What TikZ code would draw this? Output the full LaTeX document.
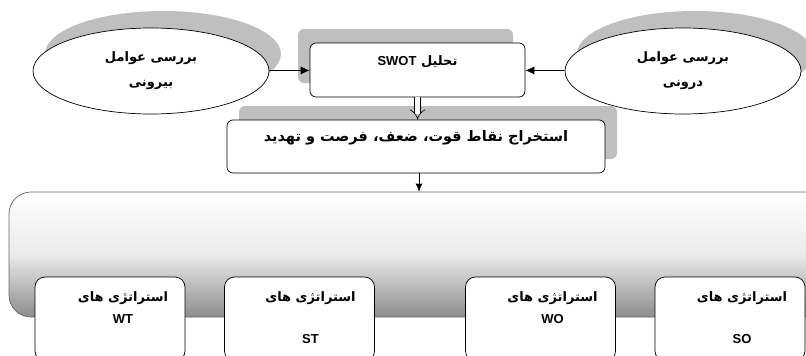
\documentclass[tikz,border=0pt]{standalone}
\usepackage{fontspec}
\setmainfont{Liberation Sans}
\newfontfamily\farsi[Script=Arabic]{DejaVu Sans}
\TeXXeTstate=1
\usetikzlibrary{positioning,shapes.geometric,shadows,arrows.meta}

\newcommand{\fatext}[1]{\beginR #1\endR}
\newcommand{\latin}[1]{{\normalfont\bfseries\beginL #1\endL}}

\tikzset{
  factor/.style={draw, ellipse, fill=white, line width=0.7pt, minimum width=236pt, minimum height=86pt, inner sep=0pt, align=center, font=\farsi\bfseries\fontsize{13pt}{25pt}\selectfont, drop shadow={shadow xshift=12pt, shadow yshift=17pt, fill=black!25, opacity=1}},
  mainbox/.style={draw, rectangle, rounded corners=6pt, fill=white, line width=0.7pt, inner sep=0pt, font=\farsi\bfseries\fontsize{13pt}{16pt}\selectfont},
  stratbox/.style={draw, rectangle, rounded corners=10pt, fill=white, line width=0.7pt, minimum width=150pt, minimum height=84pt, inner sep=0pt},
  stratlabel/.style={align=center, inner sep=0pt, font=\farsi\bfseries\fontsize{13pt}{22pt}\selectfont},
  flow/.style={draw, line width=0.7pt, -{Latex[length=9pt,width=8pt]}}
}

\begin{document}
\begin{tikzpicture}[x=1pt,y=-1pt]
\useasboundingbox (0,0) rectangle (806,356);

\node[factor](extfac) at (151,71){\fatext{بررسی عوامل}\\\fatext{بیرونی}};
\node[factor](intfac) at (683,71){\fatext{بررسی عوامل}\\\fatext{درونی}};
\node[mainbox, minimum width=215pt, minimum height=54pt, text depth=18pt,
  drop shadow={shadow xshift=-12pt, shadow yshift=14pt, fill=black!25, opacity=1}](swot) at (417.5,70){\fatext{تحلیل \latin{SWOT}}};
\node[mainbox, minimum width=378pt, minimum height=53pt, text depth=22pt, font=\farsi\bfseries\fontsize{14.5pt}{16pt}\selectfont,
  drop shadow={shadow xshift=12pt, shadow yshift=14pt, fill=black!25, opacity=1}](extract) at (416,146.5){\fatext{استخراج نقاط قوت، ضعف، فرصت و تهدید}};

\path[flow] (extfac) edge (swot);
\path[flow] (intfac) edge (swot);
\draw[double, double distance=5pt, line width=0.6pt, -{Implies}] (swot.south) -- (swot.south |- extract.north);

% strategies
\node[draw=black!60, rectangle, rounded corners=22pt, top color=white, bottom color=black!45, middle color=black!8, line width=0.7pt, minimum width=822pt, minimum height=125pt](panel) at (420,254.5){};
\draw[line width=0.7pt, -{Latex[length=8pt,width=7pt]}] ([xshift=3pt]extract.south) -- ([xshift=3pt]extract.south |- panel.north);

\node[stratbox](wt) at (110,319){};
\node[stratbox](st) at (299.5,319){};
\node[stratbox](wo) at (540.5,319){};
\node[stratbox](so) at (730,319){};

\node[stratlabel, below=15pt of wt.north, xshift=13pt]{\fatext{استراتژی های}\\\latin{WT}};
\node[stratlabel, below=15pt of st.north, xshift=11pt]{\fatext{استراتژی های}\\[20pt]\latin{ST}};
\node[stratlabel, below=15pt of wo.north, xshift=12pt]{\fatext{استراتژی های}\\\latin{WO}};
\node[stratlabel, below=15pt of so.north, xshift=12pt]{\fatext{استراتژی های}\\[20pt]\latin{SO}};

\end{tikzpicture}
\end{document}
